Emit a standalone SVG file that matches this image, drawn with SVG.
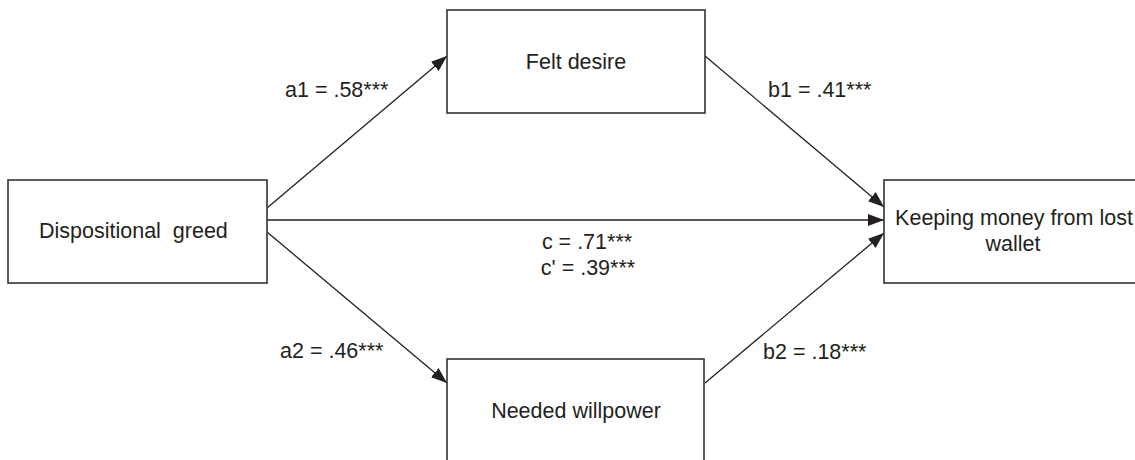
<svg xmlns="http://www.w3.org/2000/svg" width="1135" height="460" viewBox="0 0 1135 460">
<style>
.box{fill:#fff;stroke:#333;stroke-width:1.6}
.t{font-family:"Liberation Sans",Arial,sans-serif;font-size:21.5px;fill:#231f20}
.m{text-anchor:middle}
.ln{stroke:#231f20;stroke-width:1.3;fill:none;marker-end:url(#ah)}
</style>
<defs>
<marker id="ah" markerUnits="userSpaceOnUse" markerWidth="17" markerHeight="13" refX="16" refY="6" orient="auto">
<path d="M0,0 L16,6 L0,12 z" fill="#231f20"/>
</marker>
</defs>
<rect width="1135" height="460" fill="#fff"/>
<g id="connectors">
<line class="ln" x1="267" y1="208" x2="447" y2="56"/>
<line class="ln" x1="705" y1="56" x2="884" y2="207"/>
<line class="ln" x1="267" y1="220" x2="884" y2="220"/>
<line class="ln" x1="267" y1="232" x2="447" y2="383"/>
<line class="ln" x1="705" y1="383" x2="884" y2="233"/>
<text class="t" x="285" y="97">a1 = .58***</text>
<text class="t" x="768" y="97">b1 = .41***</text>
<text class="t" x="280" y="358">a2 = .46***</text>
<text class="t" x="763" y="359">b2 = .18***</text>
<text class="t m" x="587" y="249">c = .71***</text>
<text class="t m" x="588" y="275">c' = .39***</text>
</g>
<g id="greed">
<rect class="box" x="8" y="180" width="259" height="103"/>
<text class="t" x="39" y="238" xml:space="preserve">Dispositional  greed</text>
</g>
<g id="desire">
<rect class="box" x="447" y="10" width="258" height="103"/>
<text class="t m" x="576" y="69">Felt desire</text>
</g>
<g id="willpower">
<rect class="box" x="447" y="359" width="257" height="104"/>
<text class="t m" x="576" y="418">Needed willpower</text>
</g>
<g id="keeping">
<rect class="box" x="884" y="180" width="259" height="103"/>
<text class="t m" x="1014" y="225">Keeping money from lost</text>
<text class="t m" x="1013" y="251">wallet</text>
</g>
</svg>
